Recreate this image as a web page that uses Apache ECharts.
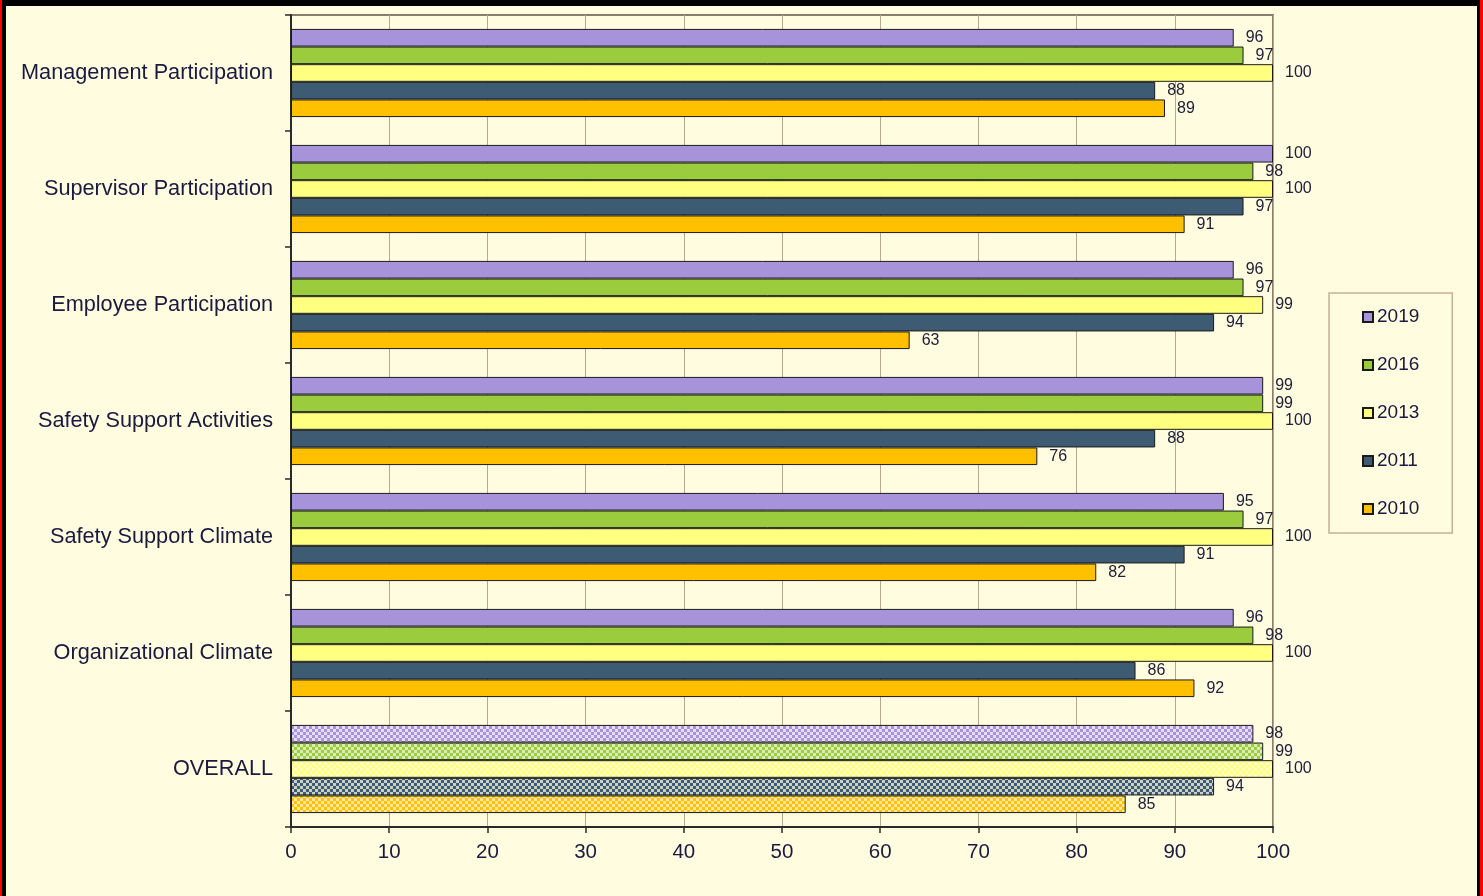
<!DOCTYPE html>
<html>
<head>
<meta charset="utf-8">
<script src="https://cdn.jsdelivr.net/npm/echarts@6/dist/echarts.min.js"></script>
<style>
html,body{margin:0;padding:0;width:1483px;height:896px;overflow:hidden;background:#FFFCDF;}
#frame{position:absolute;left:0;top:0;width:1483px;height:896px;box-sizing:border-box;border-left:2px solid #FF0000;border-right:3px solid #FF0000;}
#inner{position:absolute;left:0;top:0;right:0;bottom:0;box-sizing:border-box;border-top:6px solid #000;border-left:4px solid #000;border-right:3px solid #000;}
#chart{position:absolute;left:0;top:0;width:1483px;height:896px;}
</style>
</head>
<body>
<div id="chart"></div>
<div id="frame"><div id="inner"></div></div>
<script>
var categories = ['Management Participation','Supervisor Participation','Employee Participation','Safety Support Activities','Safety Support Climate','Organizational Climate','OVERALL'];
var seriesNames = ['2019','2016','2013','2011','2010'];
var v2019 = [96,100,96,99,95,96,98];
var v2016 = [97,98,97,99,97,98,99];
var v2013 = [100,100,99,100,100,100,100];
var v2011 = [88,97,94,88,91,86,94];
var v2010 = [89,91,63,76,82,92,85];
var xTicks = [0,10,20,30,40,50,60,70,80,90,100];

var values = [v2019,v2016,v2013,v2011,v2010];
var colors = ['#A793DA','#9ACC3E','#FFFF80','#3E5B74','#FFC000'];
var lights = ['#E8DDF0','#DDEDB8','#FFFFC4','#CBD0C4','#FFE9A0'];

function makePattern(c, l){
  var cv = document.createElement('canvas');
  cv.width = 6; cv.height = 6;
  var ctx = cv.getContext('2d');
  ctx.fillStyle = c; ctx.fillRect(0,0,6,6);
  ctx.fillStyle = l; ctx.fillRect(0,0,3,3); ctx.fillRect(3,3,3,3);
  return {image: cv, repeat: 'repeat'};
}

var series = seriesNames.map(function(n, i){
  var data = values[i].map(function(v, j){
    if (categories[j] === 'OVERALL') {
      return {value: v, itemStyle: {color: makePattern(colors[i], lights[i])}};
    }
    return v;
  });
  return {
    name: n, type: 'bar', data: data,
    barGap: '0%', barCategoryGap: '24%',
    itemStyle: {color: colors[i], borderColor: '#1a1a1a', borderWidth: 1},
    label: {show: true, position: 'right', distance: 12, color: '#20203a', fontSize: 16, fontFamily: 'Liberation Sans, Arial, sans-serif'}
  };
});

var chart = echarts.init(document.getElementById('chart'));
chart.setOption({
  backgroundColor: '#FFFCDF',
  animation: false,
  grid: {left: 291, right: 210, top: 15, bottom: 69, show: true, borderColor: '#8C7D6A', borderWidth: 2},
  legend: {
    data: seriesNames, orient: 'vertical', left: 1329, top: 293,
    padding: [14, 33], itemGap: 28, itemWidth: 10, itemHeight: 10, icon: 'rect',
    borderColor: '#C9AE98', borderWidth: 1.5, backgroundColor: '#FFFCDF',
    textStyle: {fontSize: 19, color: '#1a1a40', fontFamily: 'Liberation Sans, Arial, sans-serif', lineHeight: 20, padding: [0,0,0,-1]}
  },
  xAxis: {
    type: 'value', min: xTicks[0], max: xTicks[xTicks.length-1], interval: xTicks[1]-xTicks[0],
    axisLine: {show: true, lineStyle: {color: '#2a2a2a', width: 2}},
    axisTick: {show: true, length: 6, lineStyle: {color: '#2a2a2a', width: 1.5}},
    axisLabel: {fontSize: 20.5, color: '#1a1a40', margin: 15, fontFamily: 'Liberation Sans, Arial, sans-serif'},
    splitLine: {show: true, lineStyle: {color: '#B6A78E', width: 1}}
  },
  yAxis: {
    type: 'category', data: categories, inverse: true,
    axisLine: {show: true, lineStyle: {color: '#2a2a2a', width: 2}},
    axisTick: {show: true, length: 6, lineStyle: {color: '#2a2a2a', width: 1.5}},
    axisLabel: {fontSize: 21.7, color: '#1a1a40', margin: 18, fontFamily: 'Liberation Sans, Arial, sans-serif'}
  },
  series: series
});
</script>
</body>
</html>
